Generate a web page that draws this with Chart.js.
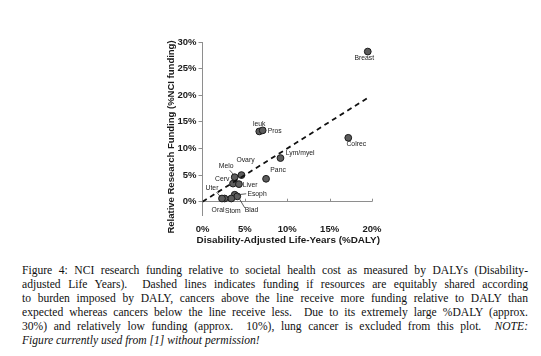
<!DOCTYPE html>
<html>
<head>
<meta charset="utf-8">
<script src="https://cdn.jsdelivr.net/npm/chart.js@4/dist/chart.umd.min.js"></script>
<style>
  html, body { margin: 0; padding: 0; background: #fff; }
  body { width: 541px; height: 356px; position: relative; overflow: hidden; }
  #wrap { position: absolute; left: 0; top: 0; width: 541px; height: 252px; }
  #c { display: block; width: 541px; height: 252px; }
  #cap { position: absolute; left: 22px; top: 264px; width: 506px;
         font-family: "Liberation Serif", "Times New Roman", serif; font-size: 11.6px;
         line-height: 14px; color: #111; }
  #cap div { white-space: nowrap; text-align: justify; text-align-last: justify; }
  #cap div.last { text-align-last: left; font-style: italic; }
</style>
</head>
<body>
<div id="wrap"><canvas id="c" width="541" height="252"></canvas></div>
<div id="cap">
  <div>Figure 4: NCI research funding relative to societal health cost as measured by DALYs (Disability-</div>
  <div>adjusted Life Years). &nbsp;Dashed lines indicates funding if resources are equitably shared according</div>
  <div>to burden imposed by DALY, cancers above the line receive more funding relative to DALY than</div>
  <div>expected whereas cancers below the line receive less. &nbsp;Due to its extremely large %DALY (approx.</div>
  <div>30%) and relatively low funding (approx. &nbsp;10%), lung cancer is excluded from this plot. &nbsp;<i>NOTE:</i></div>
  <div class="last">Figure currently used from [1] without permission!</div>
</div>
<script>
// ---- data ----
const cancers     = ['Breast','Colrec','leuk','Pros','Lym/myel','Panc','Ovary','Melo','Cerv','Liver','Esoph','Blad','Stom','Oral','Uter'];
const dalyPct     = [19.5, 17.2, 6.7, 7.1, 9.2, 7.5, 4.6, 3.8, 3.6, 4.3, 3.8, 4.1, 3.4, 2.6, 2.3];
const fundingPct  = [28.2, 12.0, 13.2, 13.4, 8.2, 4.3, 5.0, 4.6, 3.4, 3.3, 1.3, 1.0, 0.6, 0.6, 0.6];
const parityDaly    = [0, 19.7];
const parityFunding = [0, 19.7];
const xTicks = [0, 5, 10, 15, 20];
const yTicks = [0, 5, 10, 15, 20, 25, 30];
const xTitle = 'Disability-Adjusted Life-Years (%DALY)';
const yTitle = 'Relative Research Funding (%NCI funding)';

// ---- label placement (style only) ----
const labelStyle = {
  'Breast':   {dx: -3.5, dy: 6.5,  align: 'center'},
  'Colrec':   {dx: 8,    dy: 6.7,  align: 'center'},
  'leuk':     {dx: 0,    dy: -7.3, align: 'center'},
  'Pros':     {dx: 5,    dy: 0.3,  align: 'left'},
  'Lym/myel': {dx: 5.3,  dy: -5,   align: 'left'},
  'Panc':     {dx: 12,   dy: -8.3, align: 'center'},
  'Ovary':    {dx: 4,    dy: -14.5,align: 'center'},
  'Melo':     {dx: -8.5, dy: -11.3,align: 'center', lead: [[-5,-7],[-1,-2.5]]},
  'Cerv':     {dx: -3.6, dy: -4.5, align: 'right'},
  'Liver':    {dx: 3.8,  dy: 0.5,  align: 'left'},
  'Esoph':    {dx: 12.7, dy: -1,   align: 'left', lead: [[3,0],[11.5,-1]]},
  'Blad':     {dx: 14.3, dy: 13.3, align: 'center', lead: [[1.8,1.8],[7.5,11.5]]},
  'Stom':     {dx: 1.5,  dy: 12.3, align: 'center'},
  'Oral':     {dx: -6.5, dy: 11.3, align: 'center'},
  'Uter':     {dx: -10,  dy: -10,  align: 'center', lead: [[-5.5,-6.5],[-1.8,-2]]}
};

const AXIS_GRAY = '#8e8e8e';
const FONT_FAMILY = '"Liberation Sans", Arial, sans-serif';

const pointLabels = {
  id: 'pointLabels',
  afterDatasetsDraw(chart) {
    const meta = chart.getDatasetMeta(1);
    const ctx = chart.ctx;
    ctx.save();
    ctx.font = '6.8px ' + FONT_FAMILY;
    ctx.fillStyle = '#1a1a1a';
    ctx.strokeStyle = '#333';
    ctx.lineWidth = 0.8;
    ctx.textBaseline = 'middle';
    meta.data.forEach((el, i) => {
      const s = labelStyle[cancers[i]];
      if (!s) return;
      if (s.lead) {
        ctx.beginPath();
        ctx.moveTo(el.x + s.lead[0][0], el.y + s.lead[0][1]);
        ctx.lineTo(el.x + s.lead[1][0], el.y + s.lead[1][1]);
        ctx.stroke();
      }
      ctx.textAlign = s.align;
      ctx.fillText(cancers[i], el.x + s.dx, el.y + s.dy);
    });
    ctx.restore();
  }
};

const xTickMarks = {
  id: 'xTickMarks',
  beforeDatasetsDraw(chart) {
    const {ctx, scales: {x, y}} = chart;
    const y0 = y.getPixelForValue(0);
    ctx.save();
    ctx.strokeStyle = AXIS_GRAY;
    ctx.lineWidth = 1;
    xTicks.forEach(v => {
      if (v === 0) return;
      const px = Math.round(x.getPixelForValue(v)) + 0.5;
      ctx.beginPath();
      ctx.moveTo(px, y0);
      ctx.lineTo(px, y0 - 3);
      ctx.stroke();
    });
    ctx.restore();
  }
};

// axis titles drawn without width compression, placed as in the original
const axisTitles = {
  id: 'axisTitles',
  afterDraw(chart) {
    const {ctx, scales: {x, y}} = chart;
    ctx.save();
    ctx.fillStyle = '#1a1a1a';
    ctx.textAlign = 'center';
    ctx.textBaseline = 'middle';
    ctx.font = 'bold 9.9px ' + FONT_FAMILY;
    ctx.fillText(xTitle, (x.left + x.right) / 2 + 1, x.bottom - 9.3);
    ctx.translate(y.left + 11, (y.top + x.bottom) / 2 - 9);
    ctx.rotate(-Math.PI / 2);
    ctx.font = 'bold 9.5px ' + FONT_FAMILY;
    ctx.fillText(yTitle, 0, 0);
    ctx.restore();
  }
};

const tickFont = {family: FONT_FAMILY, size: 9.5, weight: 'bold'};

new Chart(document.getElementById('c'), {
  type: 'scatter',
  data: {
    datasets: [
      {
        type: 'line',
        data: parityDaly.map((v, i) => ({x: v, y: parityFunding[i]})),
        borderColor: '#111',
        borderWidth: 1.8,
        borderDash: [5, 4],
        pointRadius: 0,
        fill: false
      },
      {
        data: dalyPct.map((v, i) => ({x: v, y: fundingPct[i]})),
        backgroundColor: '#5c5c5c',
        borderColor: '#1a1a1a',
        borderWidth: 1,
        pointRadius: 3.4
      }
    ]
  },
  options: {
    responsive: false,
    animation: false,
    devicePixelRatio: 1,
    layout: {padding: {left: 160, top: 42, right: 169, bottom: 2}},
    plugins: {legend: {display: false}, tooltip: {enabled: false}},
    scales: {
      x: {
        type: 'linear', min: 0, max: 20,
        afterBuildTicks: s => { s.ticks = xTicks.map(v => ({value: v})); },
        afterFit: s => { s.height = 35; },
        grid: {display: false, drawTicks: false},
        border: {display: false},
        ticks: {font: tickFont, color: '#1a1a1a', padding: 9, maxRotation: 0, callback: v => v + '%'},
        title: {display: false}
      },
      y: {
        type: 'linear', min: -2.5, max: 30,
        afterBuildTicks: s => { s.ticks = yTicks.map(v => ({value: v})); },
        afterFit: s => { s.width = 42.5; },
        grid: {
          display: true, drawOnChartArea: true, drawTicks: true, tickLength: 4,
          color: c => (c.tick && c.tick.value === 0) ? AXIS_GRAY : 'rgba(0,0,0,0)',
          tickColor: AXIS_GRAY, lineWidth: 1
        },
        border: {display: true, color: AXIS_GRAY, width: 1},
        ticks: {font: tickFont, color: '#1a1a1a', padding: 2, callback: v => v + '%'},
        title: {display: false}
      }
    }
  },
  plugins: [pointLabels, xTickMarks, axisTitles]
});
</script>
</body>
</html>
